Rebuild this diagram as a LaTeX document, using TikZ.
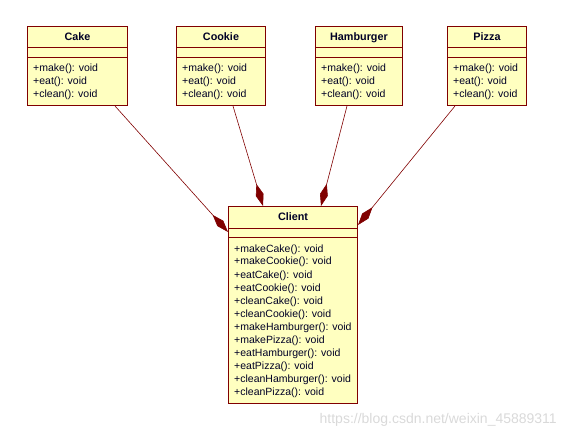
\documentclass[tikz,border=0pt]{standalone}
\usepackage{fontspec}
\setmainfont{Liberation Sans}
\usetikzlibrary{arrows.meta}
\definecolor{umlborder}{HTML}{800000}
\definecolor{umlfill}{HTML}{FFFFC0}
\definecolor{wmark}{HTML}{D9D9D9}
\tikzset{
  classbox/.style={draw=umlborder, fill=umlfill, line width=1pt, inner sep=0pt},
  divider/.style={draw=umlborder, line width=1pt},
  titletext/.style={font=\fontsize{10.8}{13}\selectfont\bfseries, inner sep=0pt, anchor=base, text=black!85!blue},
  methodtext/.style={font=\fontsize{10.5}{13}\selectfont, inner sep=0pt, anchor=base west, text=black!85!blue},
  compose/.style={draw=umlborder, line width=0.6pt, -{Diamond[length=23pt, width=8pt, fill=umlborder]}},
}
\begin{document}
\begin{tikzpicture}[x=1pt, y=-1pt]
\useasboundingbox (0,0) rectangle (566,436);
% small classes: name, left, right, title
\foreach \n/\l/\r/\t in {cake/27.5/127.5/Cake, cookie/176.5/265.5/Cookie, hamburger/315.5/402.5/Hamburger, pizza/447.5/526.5/Pizza}{
  \path[classbox] (\l,26.5) rectangle (\r,105.5);
  \node[classbox, draw=none, fill=none, minimum width=\r pt-\l pt, minimum height=79pt] (\n) at ({(\l+\r)/2},66) {};
  \draw[divider] (\l,47.5) -- (\r,47.5);
  \draw[divider] (\l,57.5) -- (\r,57.5);
  \node[titletext] (\n-title) at ({(\l+\r)/2},41) {\t};
  \node[methodtext] (\n-m1) at (\l+5.5,72) {+make(): void};
  \node[methodtext] (\n-m2) at (\l+5.5,85) {+eat(): void};
  \node[methodtext] (\n-m3) at (\l+5.5,98) {+clean(): void};
}
% client
\path[classbox] (228.5,206.5) rectangle (357.5,403.5);
\node[minimum width=129pt, minimum height=197pt, inner sep=0pt] (client) at (293,305) {};
\draw[divider] (228.5,228.5) -- (357.5,228.5);
\draw[divider] (228.5,237.5) -- (357.5,237.5);
\node[titletext] (client-title) at (293,221) {Client};
\foreach \m [count=\i from 0] in {makeCake, makeCookie, eatCake, eatCookie, cleanCake, cleanCookie, makeHamburger, makePizza, eatHamburger, eatPizza, cleanHamburger, cleanPizza}{
  \node[methodtext] (client-m\i) at (234,252+13*\i) {+\m(): void};
}
% connectors
\coordinate (cake-out) at (115,106);
\coordinate (cookie-out) at (233,106);
\coordinate (hamburger-out) at (347,106);
\coordinate (pizza-out) at (455,106);
\coordinate (client-in1) at (228,232);
\coordinate (client-in2) at (263,206);
\coordinate (client-in3) at (321,206);
\coordinate (client-in4) at (358,225);
\draw[compose] (cake-out) -- (client-in1);
\draw[compose] (cookie-out) -- (client-in2);
\draw[compose] (hamburger-out) -- (client-in3);
\draw[compose] (pizza-out) -- (client-in4);
% watermark
\node[font=\fontsize{14}{16}\selectfont, text=wmark, inner sep=0pt, anchor=base east] (wm) at (557,423) {https://blog.csdn.net/weixin\_45889311};
\end{tikzpicture}
\end{document}
